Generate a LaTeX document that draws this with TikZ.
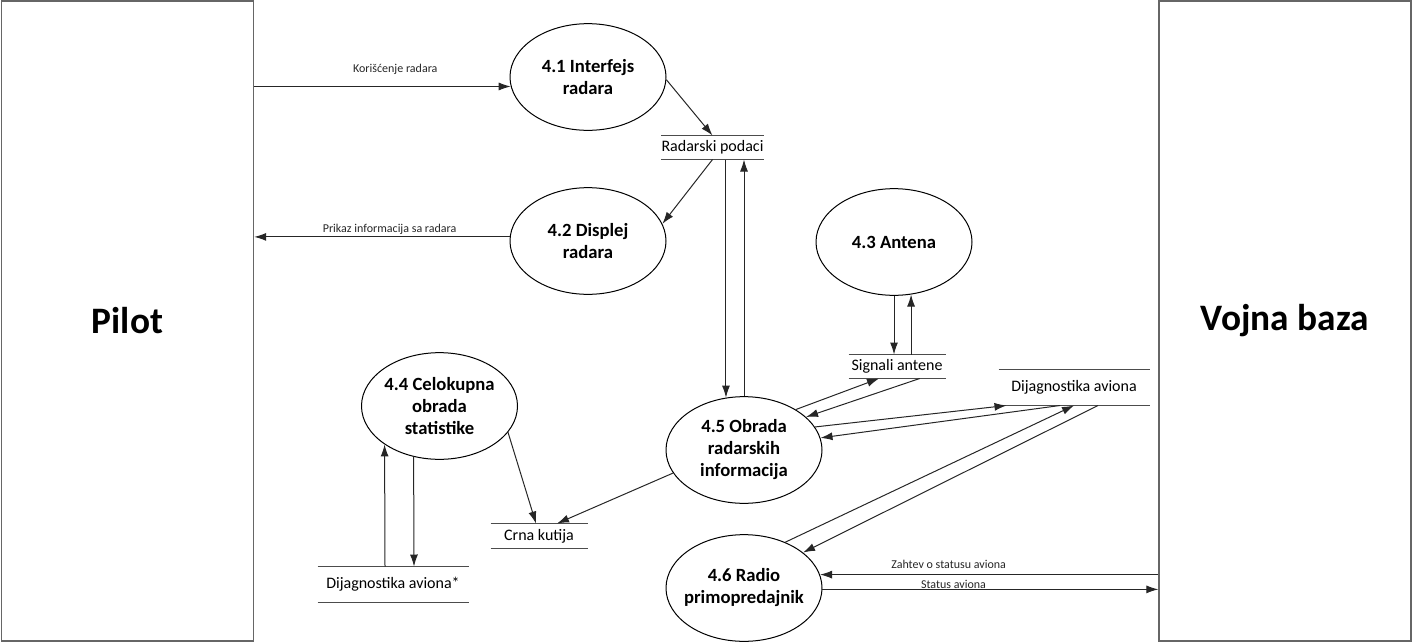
\documentclass[tikz,border=0pt]{standalone}
\usepackage{fontspec}
\setmainfont{Carlito}
\usetikzlibrary{arrows.meta,shapes}
\tikzset{%
  entity/.style  = {draw=black!60, line width=1pt, rectangle, inner sep=0pt,
    minimum width=189pt, minimum height=480pt,
    font=\fontsize{28}{32}\selectfont\bfseries},
  process/.style = {draw, ellipse, inner sep=0pt, inner xsep=-7pt,
    minimum width=117pt, minimum height=80pt, align=center,
    font=\fontsize{14}{16.5}\selectfont\bfseries}, % Bubble
  store/.style   = {inner sep=0pt, minimum height=17.25pt,
    font=\fontsize{12}{14}\selectfont}, % Data store
  flow/.style    = {-{Latex[length=9pt,width=6pt]}, black!85},
  lbl/.style     = {font=\fontsize{9}{10}\selectfont, inner sep=1pt}
}

\begin{document}
\begin{tikzpicture}[x=0.75pt, y=-0.75pt, line width=0.75pt]
  \useasboundingbox (0,0) rectangle (1413,643);
  % external entities
  \node [entity] (pilot) at (127.5,321) {Pilot};
  \node [entity] (vb) at (1285,321) {Vojna baza};
  % processes
  \node [process] (p41) at (588,77) {4.1 Interfejs\\radara};
  \node [process] (p42) at (588,241) {4.2 Displej\\radara};
  \node [process] (p43) at (894,242) {4.3 Antena};
  \node [process] (p44) at (439.5,406) {4.4 Celokupna\\obrada\\statistike};
  \node [process] (p45) at (744,450) {4.5 Obrada\\radarskih\\informacija};
  \node [process] (p46) at (744,588) {4.6 Radio\\primopredajnik};
  % data stores
  \node [store, minimum width=72.75pt] (rp) at (712.5,147.5) {Radarski podaci};
  \node [store, minimum width=72pt] (sa) at (897,366.5) {Signali antene};
  \node [store, minimum width=112.5pt, minimum height=26.25pt] (da) at (1074,387.5) {Dijagnostika aviona};
  \node [store, minimum width=72pt, minimum height=18pt] (ck) at (539,536) {Crna kutija};
  \node [store, minimum width=112.5pt, minimum height=26.25pt] (dz) at (393,584.5) {Dijagnostika aviona*};
  \foreach \s in {rp,sa,da,ck,dz}
    \draw[black!70] (\s.north west) -- (\s.north east) (\s.south west) -- (\s.south east);
  % flows
  \draw[flow] (pilot.east |- p41.187) -- node[lbl, above=7.5pt, pos=0.55] {Korišćenje radara} (p41.187);
  \draw[flow] (p41.-2) -- (rp.north);
  \draw[flow] (rp.south) -- (p42.13);
  \draw[flow] (p42.177) -- node[lbl, above=0.75pt, pos=0.47] {Prikaz informacija sa radara} (pilot.east |- p42.177);
  \draw[flow] (rp.south -| p45.109) -- (p45.109);
  \draw[flow] (p45.north) -- (p45.north |- rp.south);
  \draw[flow] (p43.south) -- (p43.south |- sa.north);
  \draw[flow] (sa.north -| p43.-72) -- (p43.-72);
  \draw[flow] (p45.38) -- ([xshift=-13.5pt]sa.south);
  \draw[flow] ([xshift=17pt]sa.south) -- (p45.28);
  \draw[flow] (p45.18) -- ([xshift=6pt]da.south west);
  \draw[flow] ([xshift=-10.5pt]da.south) -- (p45.9);
  \draw[flow] (p46.48) -- (da.south);
  \draw[flow] ([xshift=18pt]da.south) -- (p46.31);
  \draw[flow] (vb.west |- p46.10) -- node[lbl, above=3pt, pos=0.62] {Zahtev o statusu aviona} (p46.10);
  \draw[flow] (p46.-1) -- node[lbl, above=-0.5pt, pos=0.39] {Status aviona} (vb.west |- p46.-1);
  \draw[flow] ([xshift=-6pt]dz.north) -- (p44.-145);
  \draw[flow] (p44.-117) -- ([xshift=15.75pt]dz.north);
  \draw[flow] (p44.-21) -- ([xshift=-2.25pt]ck.north);
  \draw[flow] (p45.198) -- ([xshift=13.5pt]ck.north);
\end{tikzpicture}
\end{document}
